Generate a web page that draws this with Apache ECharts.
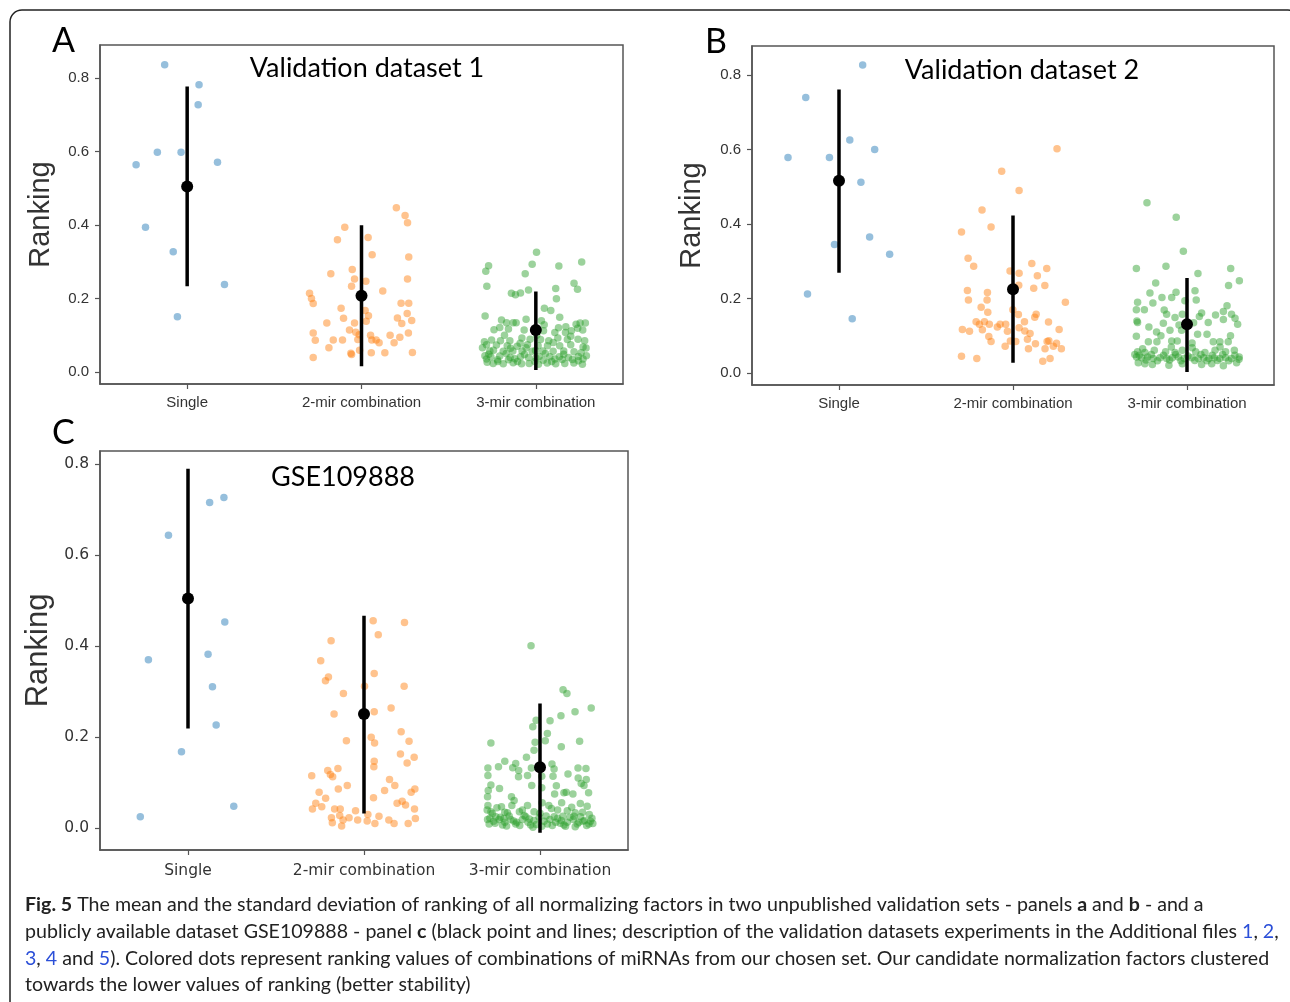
<!DOCTYPE html>
<html>
<head>
<meta charset="utf-8">
<script src="https://cdn.jsdelivr.net/npm/echarts@6/dist/echarts.min.js"></script>
<style>
  html, body { margin: 0; padding: 0; background: #fff; }
  #fig { width: 1290px; height: 1002px; }
</style>
</head>
<body>
<div id="fig"></div>
<script>
var categories = ['Single', '2-mir combination', '3-mir combination'];
var yTicks = [0, 0.2, 0.4, 0.6, 0.8];

// each point: [jitter offset from category, ranking]
// panel A - Validation dataset 1
var aSingle = [[-0.129,0.836],[0.068,0.782],[0.063,0.727],[-0.293,0.564],[-0.171,0.598],[-0.035,0.598],[0.174,0.571],[-0.239,0.394],[-0.080,0.327],[0.214,0.238],[-0.056,0.150]];
var aTwo = [[0.20,0.447],[0.25,0.426],[0.264,0.406],[-0.096,0.394],[0.038,0.366],[-0.138,0.360],[0.061,0.319],[0.271,0.313],[-0.053,0.279],[-0.176,0.267],
  [-0.040,0.253],[0.025,0.247],[0.264,0.253],[-0.057,0.233],[0.122,0.220],[-0.298,0.214],[-0.287,0.200],[-0.277,0.186],[0.227,0.187],[0.271,0.187],
  [-0.117,0.173],[0.021,0.167],[0.040,0.153],[-0.103,0.146],[0.262,0.159],[0.206,0.147],[0.027,0.138],[0.231,0.132],[0.288,0.140],[-0.199,0.133],
  [-0.040,0.133],[-0.277,0.106],[-0.069,0.114],[-0.033,0.108],[-0.013,0.101],[0.052,0.100],[0.164,0.100],[0.269,0.106],[-0.265,0.086],[-0.162,0.087],
  [-0.109,0.087],[-0.021,0.088],[0.059,0.087],[0.084,0.087],[0.101,0.079],[0.220,0.094],[0.187,0.079],[-0.187,0.066],[-0.061,0.051],[-0.057,0.047],
  [-0.011,0.059],[0.056,0.052],[0.134,0.052],[0.292,0.053],[-0.277,0.039]];
var aThree = [[0.004,0.326],[-0.271,0.289],[-0.287,0.274],[-0.021,0.293],[0.132,0.288],[0.263,0.299],[-0.061,0.267],[-0.281,0.233],[0.219,0.241],[0.239,0.225],
  [0.114,0.227],[-0.140,0.214],[-0.117,0.210],[-0.088,0.215],[-0.042,0.223],[0.118,0.199],[-0.291,0.152],[0.049,0.173],[0.086,0.167],[0.137,0.149],
  [-0.197,0.141],[-0.168,0.134],[-0.130,0.134],[-0.113,0.134],[-0.056,0.143],[0.032,0.139],[0.048,0.128],[0.254,0.133],[0.284,0.133],[0.231,0.130],
  [0.172,0.123],[-0.207,0.121],[-0.157,0.117],[-0.067,0.114],[0.044,0.112],[0.109,0.107],[0.170,0.107],[0.204,0.112],[0.269,0.114],[0.240,0.119],
  [-0.254,0.087],[-0.203,0.085],[-0.149,0.085],[-0.080,0.092],[-0.033,0.089],[0.027,0.088],[0.074,0.085],[0.126,0.092],[0.181,0.088],[0.242,0.089],
  [-0.283,0.074],[-0.226,0.073],[-0.164,0.071],[-0.107,0.070],[-0.048,0.074],[0.013,0.071],[0.067,0.071],[0.137,0.071],[0.200,0.074],[0.271,0.068],
  [-0.306,0.066],[-0.243,0.059],[-0.187,0.056],[-0.132,0.057],[-0.079,0.057],[-0.021,0.056],[0.040,0.057],[0.099,0.056],[0.160,0.057],[0.219,0.055],
  [0.288,0.065],[-0.292,0.044],[-0.258,0.041],[-0.207,0.043],[-0.147,0.039],[-0.088,0.041],[-0.042,0.039],[0.019,0.042],[0.080,0.041],[0.135,0.041],
  [0.187,0.039],[0.244,0.042],[0.290,0.044],[-0.279,0.026],[-0.245,0.023],[-0.187,0.022],[-0.130,0.025],[-0.082,0.022],[-0.038,0.023],[0.015,0.021],
  [0.065,0.024],[0.114,0.022],[0.166,0.023],[0.218,0.024],[0.267,0.021],[-0.218,0.028],[-0.105,0.028],[-0.006,0.028],[0.091,0.028],[0.244,0.030],
  [-0.264,0.057],[-0.056,0.066],[-0.157,0.033],[0.042,0.032],[0.151,0.034],[0.271,0.035],[-0.283,0.035],
  [-0.27,0.048],[-0.22,0.033],[-0.17,0.050],[-0.12,0.036],[-0.065,0.047],[0.000,0.038],[0.055,0.050],[0.110,0.035],[0.160,0.048],[0.210,0.034],
  [0.26,0.052],[-0.295,0.082],[-0.18,0.100],[-0.09,0.078],[0.005,0.100],[0.100,0.080],[0.200,0.097],[0.280,0.085],[-0.24,0.115],[0.130,0.120],
  [-0.002,0.058],[-0.145,0.064]];
var aMean = [0.505, 0.207, 0.114];
var aLow = [0.233, 0.015, 0.005];
var aHigh = [0.777, 0.399, 0.219];

// panel B - Validation dataset 2
var bSingle = [[0.136,0.827],[-0.191,0.740],[-0.293,0.579],[-0.055,0.579],[0.062,0.626],[0.205,0.600],[0.126,0.512],[-0.026,0.345],[0.176,0.365],[0.291,0.319],[-0.181,0.212],[0.076,0.146]];
var bTwo = [[0.253,0.602],[-0.065,0.542],[0.035,0.490],[-0.178,0.438],[-0.126,0.392],[-0.296,0.379],[-0.258,0.308],[-0.226,0.287],[0.108,0.294],[0.194,0.281],
  [-0.017,0.274],[0.035,0.268],[0.140,0.261],[0.033,0.236],[0.183,0.235],[0.119,0.228],[-0.262,0.222],[-0.147,0.216],[-0.256,0.196],[-0.149,0.196],
  [0.301,0.190],[-0.183,0.177],[-0.001,0.170],[-0.145,0.163],[0.031,0.157],[0.133,0.158],[0.125,0.150],[-0.212,0.138],[-0.193,0.131],[-0.164,0.138],
  [-0.136,0.131],[-0.074,0.131],[-0.042,0.131],[-0.090,0.124],[0.066,0.138],[0.204,0.137],[-0.291,0.117],[-0.250,0.112],[-0.176,0.116],[-0.032,0.112],
  [0.035,0.122],[0.068,0.113],[0.098,0.106],[0.265,0.117],[-0.139,0.098],[-0.126,0.085],[0.083,0.091],[-0.015,0.086],[0.016,0.085],[0.129,0.079],
  [0.196,0.085],[0.206,0.087],[0.250,0.080],[-0.045,0.072],[0.089,0.065],[0.184,0.065],[0.232,0.072],[0.278,0.065],[-0.296,0.045],[-0.208,0.039],
  [0.171,0.032],[0.213,0.039]];
var bThree = [[-0.230,0.457],[-0.062,0.418],[-0.021,0.327],[-0.291,0.281],[-0.121,0.287],[0.251,0.281],[0.063,0.267],[0.301,0.248],[-0.180,0.242],[0.239,0.235],
  [-0.213,0.215],[-0.063,0.217],[0.046,0.221],[-0.284,0.190],[-0.196,0.188],[-0.144,0.203],[-0.088,0.203],[-0.012,0.194],[0.053,0.196],[-0.291,0.170],
  [-0.245,0.170],[-0.131,0.169],[-0.117,0.158],[-0.027,0.158],[0.084,0.161],[0.164,0.156],[0.209,0.165],[0.230,0.181],[0.256,0.158],[-0.288,0.140],
  [-0.284,0.136],[-0.219,0.124],[-0.136,0.134],[-0.069,0.149],[-0.046,0.129],[0.038,0.135],[0.071,0.152],[0.122,0.136],[0.209,0.144],[0.276,0.147],
  [0.291,0.131],[-0.291,0.099],[-0.175,0.110],[-0.098,0.115],[-0.031,0.115],[0.061,0.104],[0.115,0.104],[-0.222,0.084],[-0.173,0.084],[-0.088,0.086],
  [-0.056,0.086],[0.029,0.081],[0.151,0.084],[0.189,0.084],[0.237,0.084],[-0.284,0.057],[-0.242,0.055],[-0.188,0.061],[-0.123,0.057],[-0.069,0.055],
  [-0.027,0.061],[0.050,0.057],[0.103,0.055],[0.161,0.061],[0.222,0.057],[0.272,0.061],[-0.290,0.043],[-0.261,0.041],[-0.226,0.043],[-0.194,0.039],
  [-0.155,0.041],[-0.117,0.039],[-0.085,0.041],[-0.050,0.043],[-0.016,0.039],[0.027,0.041],[0.065,0.039],[0.096,0.041],[0.126,0.039],[0.157,0.041],
  [0.189,0.039],[0.222,0.041],[0.256,0.039],[0.299,0.037],[-0.280,0.028],[-0.199,0.023],[-0.104,0.021],[-0.027,0.025],[0.084,0.023],[0.209,0.020],
  [0.285,0.028],[-0.242,0.025],[0.142,0.025],
  [-0.275,0.048],[-0.235,0.035],[-0.205,0.050],[-0.170,0.033],[-0.135,0.048],[-0.100,0.035],[-0.065,0.050],[-0.035,0.033],[0.005,0.046],[0.045,0.034],
  [0.080,0.050],[0.115,0.033],[0.145,0.048],[0.175,0.034],[0.205,0.050],[0.240,0.033],[0.275,0.048],[0.300,0.043],[-0.300,0.050],[-0.255,0.065],
  [-0.090,0.070],[0.030,0.068],[0.190,0.070],[-0.150,0.100],[0.250,0.100]];
var bMean = [0.516, 0.225, 0.131];
var bLow = [0.269, 0.028, 0.003];
var bHigh = [0.761, 0.423, 0.255];

// panel C - GSE109888
var cSingle = [[0.204,0.727],[0.123,0.716],[-0.111,0.644],[0.209,0.453],[-0.225,0.370],[0.114,0.382],[0.139,0.311],[0.160,0.227],[-0.037,0.168],[0.260,0.048],[-0.271,0.025]];
var cTwo = [[0.052,0.456],[0.230,0.452],[0.081,0.425],[-0.187,0.412],[-0.246,0.368],[-0.202,0.332],[-0.219,0.324],[0.058,0.340],[0.003,0.312],[0.228,0.312],
  [-0.117,0.296],[-0.170,0.251],[0.058,0.256],[0.154,0.264],[-0.100,0.192],[0.041,0.200],[0.060,0.187],[0.211,0.212],[0.256,0.191],[0.207,0.163],
  [0.285,0.156],[0.245,0.143],[0.058,0.147],[0.056,0.135],[-0.297,0.115],[-0.206,0.127],[-0.191,0.118],[-0.178,0.113],[-0.148,0.131],[0.145,0.107],
  [0.175,0.094],[-0.095,0.094],[-0.146,0.086],[0.117,0.083],[-0.255,0.079],[-0.218,0.066],[0.268,0.079],[0.289,0.086],[0.054,0.067],[-0.274,0.055],
  [-0.293,0.042],[-0.240,0.047],[0.188,0.055],[0.217,0.059],[0.236,0.051],[0.287,0.042],[-0.167,0.042],[-0.135,0.042],[-0.048,0.038],[-0.185,0.023],
  [-0.138,0.028],[-0.085,0.023],[-0.036,0.018],[0.022,0.030],[0.085,0.026],[-0.180,0.012],[-0.127,0.005],[-0.119,0.018],[0.018,0.016],[0.062,0.010],
  [0.141,0.018],[0.171,0.010],[0.251,0.010],[0.292,0.021]];
var cThree = [[-0.051,0.401],[0.131,0.304],[0.153,0.296],[0.291,0.264],[0.199,0.256],[0.119,0.247],[0.057,0.236],[-0.022,0.237],[-0.041,0.223],[0.042,0.208],
  [-0.028,0.189],[-0.279,0.187],[0.030,0.192],[0.225,0.191],[0.121,0.179],[-0.034,0.171],[-0.077,0.156],[-0.200,0.147],[-0.138,0.142],[-0.296,0.132],
  [-0.236,0.135],[-0.155,0.133],[-0.121,0.127],[-0.049,0.132],[0.068,0.141],[0.080,0.130],[0.216,0.132],[0.261,0.131],[-0.296,0.116],[-0.122,0.113],
  [-0.071,0.116],[0.010,0.114],[0.074,0.114],[0.159,0.119],[0.217,0.110],[0.263,0.107],[0.234,0.098],[0.250,0.094],[-0.279,0.095],[-0.294,0.083],
  [-0.230,0.087],[-0.047,0.094],[0.010,0.089],[0.093,0.093],[0.149,0.079],[0.276,0.078],[0.083,0.075],[0.136,0.078],[-0.298,0.069],[-0.162,0.069],
  [-0.147,0.061],[0.187,0.075],[0.123,0.056],[0.012,0.056],[0.229,0.054],[-0.296,0.050],[0.268,0.048],[-0.219,0.047],[-0.071,0.050],[0.065,0.043],
  [0.155,0.038],[-0.279,0.036],[-0.185,0.034],[-0.117,0.036],[-0.034,0.036],[0.242,0.035],
  [-0.298,0.019],[-0.264,0.015],[-0.232,0.019],[-0.200,0.013],[-0.166,0.019],[-0.132,0.013],[-0.100,0.019],[-0.068,0.013],[-0.034,0.017],[0.023,0.015],
  [0.057,0.019],[0.089,0.013],[0.121,0.017],[0.155,0.013],[0.189,0.019],[0.221,0.013],[0.253,0.017],[0.287,0.015],[-0.289,0.009],[-0.213,0.007],
  [-0.138,0.009],[-0.053,0.007],[0.042,0.009],[0.136,0.007],[0.212,0.009],[0.278,0.009],[-0.251,0.025],[-0.081,0.025],[0.080,0.025],[0.193,0.026],
  [-0.285,0.022],[-0.255,0.011],[-0.225,0.024],[-0.190,0.005],[-0.175,0.027],[-0.150,0.016],[-0.115,0.006],[-0.090,0.028],[-0.060,0.020],[-0.020,0.008],
  [-0.005,0.024],[0.010,0.004],[0.035,0.027],[0.070,0.006],[0.100,0.022],[0.130,0.026],[0.145,0.004],[0.170,0.024],[0.200,0.003],[0.230,0.025],
  [0.265,0.006],[0.295,0.022],[-0.270,0.032],[-0.200,0.035],[-0.100,0.040],[0.000,0.033],[0.100,0.040],[0.200,0.034],[0.280,0.030],[-0.245,0.045],
  [-0.160,0.050],[0.050,0.050],[0.180,0.046],[-0.300,0.040],[0.300,0.010],[-0.040,0.002],[0.115,0.011],[-0.205,0.021],[0.245,0.015]];
var cMean = [0.505, 0.251, 0.134];
var cLow = [0.219, 0.032, -0.010];
var cHigh = [0.790, 0.467, 0.274];

var dotColors = ['#1f77b4', '#ff7f0e', '#2ca02c'];
var sansFont = 'Liberation Sans, Arial, sans-serif';
var labelFont = 'Lato, Noto Sans, sans-serif';

var myChart = echarts.init(document.getElementById('fig'), null, { renderer: 'canvas' });

function buildSeries(idx, groups, mean, low, high) {
    var out = [];
    groups.forEach(function (pts, c) {
        out.push({
            type: 'scatter', xAxisIndex: idx, yAxisIndex: idx, symbolSize: 7.5, z: 2,
            itemStyle: { color: dotColors[c], opacity: 0.47 },
            data: pts.map(function (p) { return [c + p[0], p[1]]; })
        });
    });
    mean.forEach(function (m, c) {
        out.push({
            type: 'line', xAxisIndex: idx, yAxisIndex: idx, symbol: 'none', z: 3,
            lineStyle: { color: '#000', width: 3.5 },
            data: [[c, low[c]], [c, high[c]]]
        });
    });
    out.push({
        type: 'scatter', xAxisIndex: idx, yAxisIndex: idx, symbolSize: 12, z: 4,
        itemStyle: { color: '#000', opacity: 1 },
        data: mean.map(function (m, c) { return [c, m]; })
    });
    return out;
}

function xAxisFor(idx, fontSize, family, margin) {
    return {
        type: 'value', gridIndex: idx, min: -0.5, max: 2.5,
        splitLine: { show: false },
        axisLine: { show: true, onZero: false, lineStyle: { color: '#555', width: 1.5 } },
        axisTick: { show: true, customValues: [0, 1, 2], length: 5, lineStyle: { color: '#555', width: 1.2 } },
        axisLabel: {
            customValues: [0, 1, 2], margin: margin, color: '#333', fontSize: fontSize, fontFamily: family,
            formatter: function (v) { return categories[Math.round(v)]; }
        }
    };
}

function yAxisFor(idx, min, max, fontSize, family, nameSize, nameGap) {
    return {
        type: 'value', gridIndex: idx, min: min, max: max,
        splitLine: { show: false },
        axisLine: { show: true, onZero: false, lineStyle: { color: '#555', width: 1.5 } },
        axisTick: { show: true, customValues: yTicks, length: 5, lineStyle: { color: '#555', width: 1.2 } },
        axisLabel: {
            customValues: yTicks, margin: 11, color: '#333', fontSize: fontSize, fontFamily: family,
            formatter: function (v) { return v.toFixed(1); }
        },
        name: 'Ranking', nameLocation: 'middle', nameGap: nameGap, nameRotate: 90,
        nameTextStyle: { fontSize: nameSize, fontFamily: sansFont, color: '#333' }
    };
}

var gridBase = { show: true, borderColor: '#555', borderWidth: 1.5, backgroundColor: 'transparent', outerBoundsMode: 'none' };

var series = []
    .concat(buildSeries(0, [aSingle, aTwo, aThree], aMean, aLow, aHigh))
    .concat(buildSeries(1, [bSingle, bTwo, bThree], bMean, bLow, bHigh))
    .concat(buildSeries(2, [cSingle, cTwo, cThree], cMean, cLow, cHigh));

var captionFont = 'Lato, Open Sans, sans-serif';
var captionSize = 19.6;
var captionRich = {
    b: { fontWeight: 'bold', fill: '#222', fontSize: captionSize, fontFamily: captionFont },
    l: { fill: '#2b4fd8', fontSize: captionSize, fontFamily: captionFont },
    n: { fill: '#222', fontSize: captionSize, fontFamily: captionFont }
};
var captionLines = [
    '{b|Fig. 5}{n| The mean and the standard deviation of ranking of all normalizing factors in two unpublished validation sets - panels }{b|a}{n| and }{b|b}{n| - and a}',
    '{n|publicly available dataset GSE109888 - panel }{b|c}{n| (black point and lines; description of the validation datasets experiments in the Additional files }{l|1}{n|, }{l|2}{n|,}',
    '{l|3}{n|, }{l|4}{n| and }{l|5}{n|). Colored dots represent ranking values of combinations of miRNAs from our chosen set. Our candidate normalization factors clustered}',
    '{n|towards the lower values of ranking (better stability)}'
];

var graphics = [
    { type: 'rect', shape: { x: 10, y: 10, width: 1290, height: 1010, r: 12 }, style: { fill: 'none', stroke: '#222', lineWidth: 1.5 }, z: -1 },
    { type: 'text', left: 52, top: 24, style: { text: 'A', font: '34px ' + labelFont, fill: '#000' } },
    { type: 'text', left: 705, top: 25, style: { text: 'B', font: '34px ' + labelFont, fill: '#000' } },
    { type: 'text', left: 52, top: 416, style: { text: 'C', font: '34px ' + labelFont, fill: '#000' } },
    { type: 'text', x: 367, y: 68, style: { text: 'Validation dataset 1', font: '27px ' + labelFont, fill: '#000', align: 'center', verticalAlign: 'middle' } },
    { type: 'text', x: 1022, y: 70, style: { text: 'Validation dataset 2', font: '27px ' + labelFont, fill: '#000', align: 'center', verticalAlign: 'middle' } },
    { type: 'text', x: 343, y: 477, style: { text: 'GSE109888', font: '27px ' + labelFont, fill: '#000', align: 'center', verticalAlign: 'middle' } }
];
captionLines.forEach(function (line, i) {
    graphics.push({
        type: 'text', x: 25, y: 905 + i * 26.7,
        style: {
            text: line, rich: captionRich, fill: '#222', fontSize: captionSize,
            fontFamily: captionFont, verticalAlign: 'middle', align: 'left'
        }
    });
});

myChart.setOption({
    animation: false,
    backgroundColor: '#fff',
    grid: [
        Object.assign({ left: 100, top: 45, width: 523, height: 339 }, gridBase),
        Object.assign({ left: 752, top: 46, width: 522, height: 339 }, gridBase),
        Object.assign({ left: 100, top: 451, width: 528, height: 399 }, gridBase)
    ],
    xAxis: [
        xAxisFor(0, 15, sansFont, 11),
        xAxisFor(1, 15, sansFont, 11),
        xAxisFor(2, 15.5, 'DejaVu Sans, sans-serif', 13)
    ],
    yAxis: [
        yAxisFor(0, -0.033, 0.89, 15, sansFont, 29, 45),
        yAxisFor(1, -0.032, 0.878, 15, sansFont, 29, 46),
        yAxisFor(2, -0.048, 0.829, 15.5, 'DejaVu Sans, sans-serif', 31, 46)
    ],
    series: series,
    graphic: graphics
});
</script>
</body>
</html>
